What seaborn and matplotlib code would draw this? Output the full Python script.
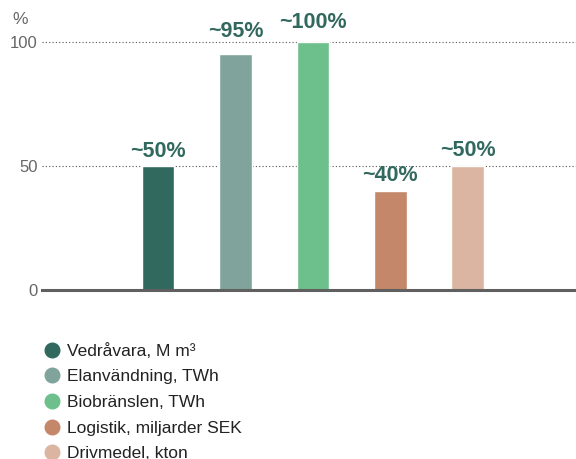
import matplotlib
matplotlib.use("Agg")
import matplotlib.pyplot as plt
from matplotlib.lines import Line2D
import seaborn as sns
import pandas as pd

# data
categories = ["Vedråvara, M m³", "Elanvändning, TWh", "Biobränslen, TWh",
              "Logistik, miljarder SEK", "Drivmedel, kton"]
values = [50, 95, 100, 40, 50]
bar_labels = ["~50%", "~95%", "~100%", "~40%", "~50%"]
colors = ["#32695f", "#80a39b", "#6dbf8c", "#c4876a", "#dbb5a2"]
yticks = [0, 50, 100]

sns.set_style("white")
plt.rcParams['font.family'] = ['Liberation Sans', 'DejaVu Sans']

df = pd.DataFrame({'cat': categories, 'val': values})

fig = plt.figure(figsize=(5.76, 4.59), dpi=100)
ax = fig.add_axes([42 / 576, (459 - 290) / 459, 1 - 42 / 576, (290 - 22) / 459])

sns.barplot(data=df, x='cat', y='val', hue='cat', palette=colors,
            width=0.42, legend=False, ax=ax, saturation=1)

# label offsets vary a little in the original
label_pads = [2.5, 8.5, 6.5, 3.5, 3.5]
for cont, lab, pad in zip(ax.containers, bar_labels, label_pads):
    ax.bar_label(cont, labels=[lab], padding=pad, fontsize=15.5,
                 fontweight='bold', color="#32695f")

ax.set_xlim(-1.5, 5.4)
ax.set_ylim(0, 108)
ax.set_yticks(yticks)
ax.set_yticklabels([str(t) for t in yticks])
ax.tick_params(axis='y', length=0, pad=3, labelsize=12, labelcolor="#666666")
ax.set_xticks([])
ax.set_xlabel('')
ax.set_ylabel('')
for s in ['top', 'right', 'left']:
    ax.spines[s].set_visible(False)
ax.spines['bottom'].set_color("#606060")
ax.spines['bottom'].set_linewidth(2.2)

for t in yticks[1:]:
    ax.axhline(t, color="#555555", linestyle=(0, (1, 2)), linewidth=0.8, zorder=0)

fig.text(12 / 576, 1 - 19 / 459, "%", fontsize=12.5, color="#666666", va='center')

handles = [Line2D([0], [0], marker='o', linestyle='', markersize=10.5,
                  markerfacecolor=c, markeredgecolor=c) for c in colors]
fig.legend(handles, categories, loc='upper left',
           bbox_to_anchor=(36 / 576, 1 - 336 / 459), frameon=False,
           fontsize=12.5, labelspacing=0.6, handlelength=1.0,
           handletextpad=0.4, labelcolor="#222222", borderaxespad=0)

fig.savefig("out.png", dpi=100)
